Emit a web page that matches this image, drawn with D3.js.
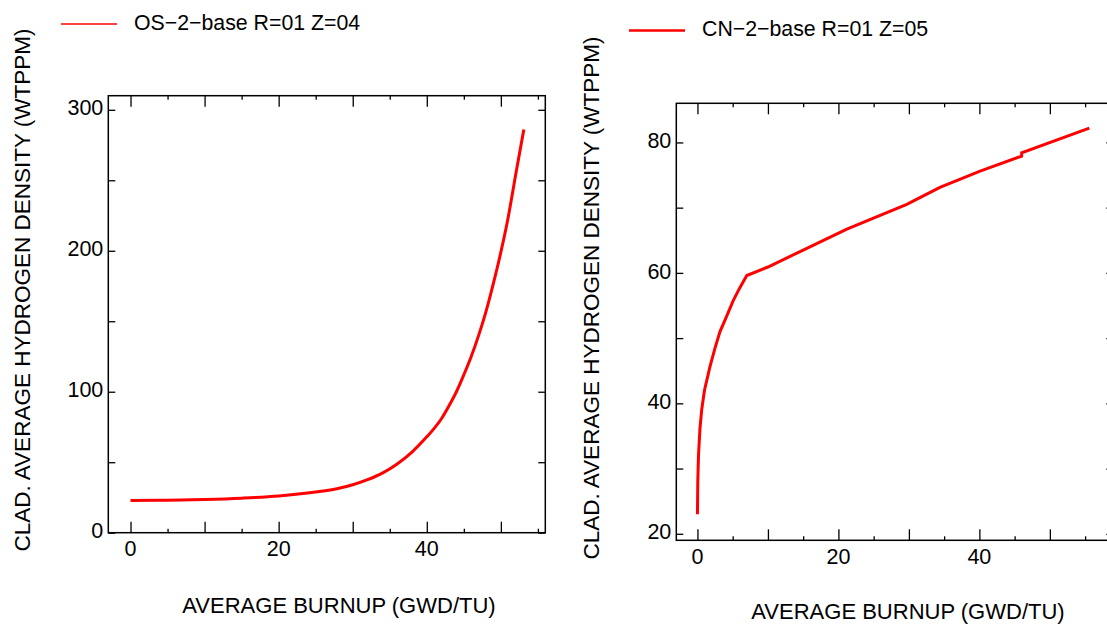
<!DOCTYPE html>
<html>
<head>
<meta charset="utf-8">
<script src="https://d3js.org/d3.v7.min.js"></script>
<style>
    body { margin: 0; background: #fff; }
    text { font-family: "Liberation Sans", Arial, sans-serif; fill: #000; }
</style>
</head>
<body>
<script>
// left panel: OS-2-base R=01 Z=04
const osBurnup = [0, 5, 10, 15, 20, 25, 28, 30, 32, 34, 36, 38, 40, 41, 42, 43, 44, 45, 46, 47, 48, 49, 50, 51, 52, 53.1];
const osHydrogen = [22.9, 23.1, 23.6, 24.5, 26.0, 28.8, 31.3, 34.0, 37.6, 42.3, 48.8, 57.2, 68, 74, 81, 90, 100, 112, 125, 140, 157, 177, 199, 224, 254, 286];
// right panel: CN-2-base R=01 Z=05
const cnBurnup = [0, 0.05, 0.15, 0.35, 0.6, 1.0, 1.75, 2.5, 3.2, 4.0, 5.06, 6.0, 7.0, 10.0, 15.0, 21.2, 29.7, 34.4, 40.1, 46.0, 46.0, 55.6];
const cnHydrogen = [23, 28, 32, 36, 39, 42, 45.5, 48.5, 51, 53, 55.7, 57.7, 59.6, 60.9, 63.5, 66.7, 70.5, 73.1, 75.6, 77.9, 78.4, 82.2];

const xLabelTicks = [0, 20, 40];
const xMajorTicks = [0, 10, 20, 30, 40, 50];
const xMinorTicks = [5, 15, 25, 35, 45, 55];
const osYLabels = [0, 100, 200, 300];
const osYTicks = [0, 50, 100, 150, 200, 250, 300];
const cnYLabels = [20, 40, 60, 80];
const cnYTicks = [20, 30, 40, 50, 60, 70, 80];

const legendNames = ["OS\u22122\u2212base R=01 Z=04", "CN\u22122\u2212base R=01 Z=05"];
const xTitle = "AVERAGE BURNUP (GWD/TU)";
const yTitle = "CLAD. AVERAGE HYDROGEN DENSITY (WTPPM)";

const svg = d3.select("body").append("svg")
    .attr("width", 1107)
    .attr("height", 624);

const panels = [
    {left: 108.3, top: 95.7, size: 437, xDom: [-3, 56], yDom: [0, 310],
     xs: osBurnup, ys: osHydrogen, yLabels: osYLabels, yTicks: osYTicks, curve: d3.curveMonotoneX,
     legend: legendNames[0], legX: 61, legY: 24, legW: 1.6,
     yTitleX: 24, yTitleY: 290, xTitleX: 339, xTitleY: 607},
    {left: 676.3, top: 103.3, size: 437, xDom: [-3, 59], yDom: [19, 86],
     xs: cnBurnup, ys: cnHydrogen, yLabels: cnYLabels, yTicks: cnYTicks, curve: d3.curveLinear,
     legend: legendNames[1], legX: 629, legY: 30.5, legW: 2.4,
     yTitleX: 593, yTitleY: 298, xTitleX: 908, xTitleY: 613}
];

panels.forEach(p => {
    const g = svg.append("g").attr("transform", `translate(${p.left},${p.top})`);
    const x = d3.scaleLinear().domain(p.xDom).range([0, p.size]);
    const y = d3.scaleLinear().domain(p.yDom).range([p.size, 0]);

    // ticks pointing inward on all four sides
    const addAxis = (axis, tr) => {
        const a = g.append("g").attr("transform", tr).call(axis);
        a.select(".domain").remove();
        a.selectAll("line").attr("stroke", "#000").attr("stroke-width", 1.3);
        return a;
    };
    const noLab = () => "";
    addAxis(d3.axisBottom(x).tickValues(xMajorTicks).tickSize(-11).tickFormat(noLab), `translate(0,${p.size})`);
    addAxis(d3.axisBottom(x).tickValues(xMinorTicks).tickSize(-4).tickFormat(noLab), `translate(0,${p.size})`);
    addAxis(d3.axisTop(x).tickValues(xMajorTicks).tickSize(-11).tickFormat(noLab), "translate(0,0)");
    addAxis(d3.axisTop(x).tickValues(xMinorTicks).tickSize(-4).tickFormat(noLab), "translate(0,0)");
    addAxis(d3.axisLeft(y).tickValues(p.yTicks).tickSize(-7).tickFormat(noLab), "translate(0,0)");
    addAxis(d3.axisRight(y).tickValues(p.yTicks).tickSize(-7).tickFormat(noLab), `translate(${p.size},0)`);

    // labels
    g.selectAll(".xl").data(xLabelTicks).enter().append("text")
        .attr("x", d => x(d)).attr("y", p.size + 18)
        .attr("text-anchor", "middle").attr("dominant-baseline", "middle")
        .attr("font-size", 21.5).text(d => d);
    g.selectAll(".yl").data(p.yLabels).enter().append("text")
        .attr("x", -5).attr("y", d => y(d))
        .attr("text-anchor", "end").attr("dominant-baseline", "middle")
        .attr("font-size", 21.5).text(d => d);

    // frame
    g.append("rect").attr("width", p.size).attr("height", p.size)
        .attr("fill", "none").attr("stroke", "#000").attr("stroke-width", 1.5);

    // curve
    const line = d3.line().curve(p.curve).x(d => x(d[0])).y(d => y(d[1]));
    g.append("path").datum(d3.zip(p.xs, p.ys))
        .attr("fill", "none").attr("stroke", "#ff0000").attr("stroke-width", 3)
        .attr("d", line);

    // titles
    svg.append("text").attr("x", p.xTitleX).attr("y", p.xTitleY)
        .attr("text-anchor", "middle").attr("dominant-baseline", "middle")
        .attr("font-size", 22).text(xTitle);
    svg.append("text")
        .attr("transform", `translate(${p.yTitleX},${p.yTitleY}) rotate(-90)`)
        .attr("text-anchor", "middle").attr("dominant-baseline", "middle")
        .attr("font-size", 22.5).text(yTitle);

    // legend
    svg.append("line").attr("x1", p.legX).attr("x2", p.legX + 56)
        .attr("y1", p.legY).attr("y2", p.legY)
        .attr("stroke", "#ff0000").attr("stroke-width", p.legW);
    svg.append("text").attr("x", p.legX + 73).attr("y", p.legY)
        .attr("dominant-baseline", "middle").attr("font-size", 21.3)
        .text(p.legend);
});
</script>
</body>
</html>
